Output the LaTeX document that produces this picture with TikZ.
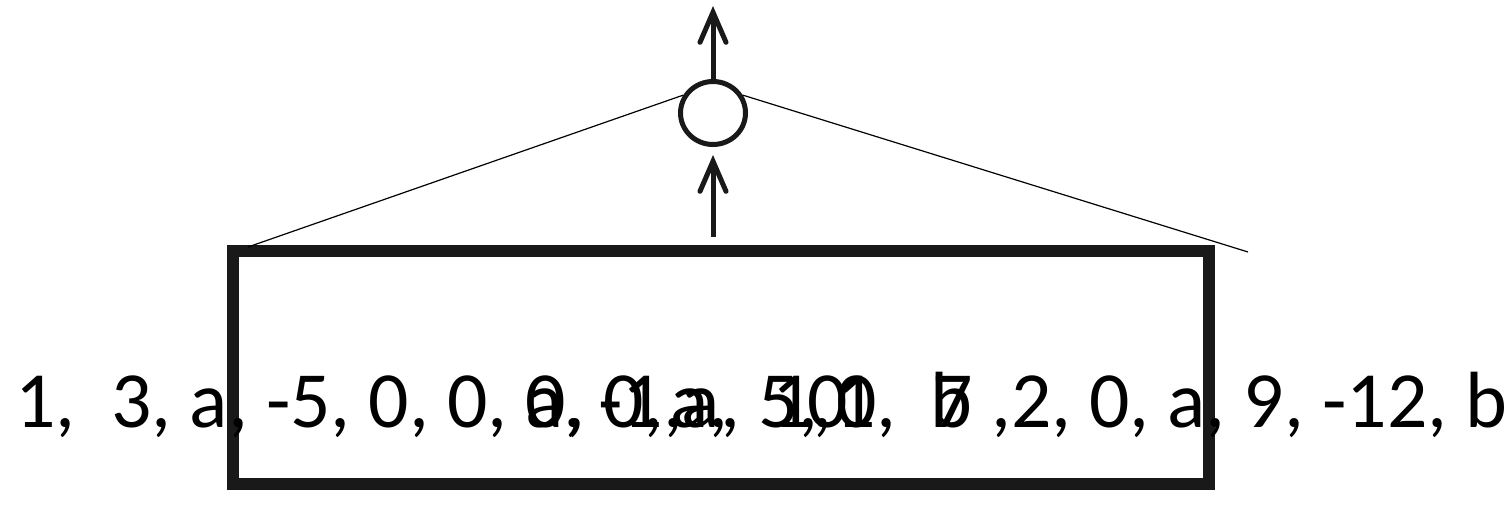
\documentclass[tikz,border=0pt]{standalone}
\usepackage{fontspec}
\setmainfont{Carlito}
\usepackage{tikz}
\usetikzlibrary{arrows.meta,positioning,shapes.geometric}

\begin{document}
\begin{tikzpicture}[x=1bp, y=-1bp,
  window/.style={draw=black!90, line width=12bp, rectangle, minimum width=976bp, minimum height=233bp, inner sep=0pt},
  unit/.style={draw=black!90, line width=5bp, ellipse, minimum width=65bp, minimum height=63bp, inner sep=0pt},
  seq/.style={font=\fontsize{80}{96}\selectfont, inner sep=0pt, anchor=base west},
  arrow/.style={-{Straight Barb[length=30bp, width=26bp, line cap=round]}, line width=5bp, draw=black!90},
  rim/.style={line width=1.2bp, draw=black}
]
\useasboundingbox (0,0) rectangle (1510,509);
\node[window] (win) at (721,367.5) {};
\node[unit] (neuron) at (713,113) {};
% the sequence, with the shifted copy printed over its middle
\node[seq] (seqhead) at (15,427) {1,\ \ 3, a, -5, 0, 0,};
\node[seq] (seqtail) at (525,427) {0, 0, a, 5, 0,\ \ 7 ,2, 0, a, 9, -12, b};
\node[seq] (ova) at (525,427) {a,};
\node[seq] (ovb) at (598,427) {-1,};
\node[seq] (ovc) at (670,427) {a,};
\node[seq] (ovd) at (772,427) {1,};
\node[seq] (ove) at (807,427) {0};
\node[seq] (ovf) at (835,427) {1};
\node[seq] (ovg) at (930,427) {b};
\coordinate (out) at (713,6);
\coordinate (rimleft) at (248,247);
\coordinate (rimright) at (1248,252);
\draw[arrow, shorten <=8bp, shorten >=8bp] (win.north -| neuron) -- (neuron.south);
\draw[arrow] (neuron.north) -- (out);
\draw[rim] (neuron.149) -- (rimleft);
\draw[rim] (neuron.31) -- (rimright);
\end{tikzpicture}
\end{document}
